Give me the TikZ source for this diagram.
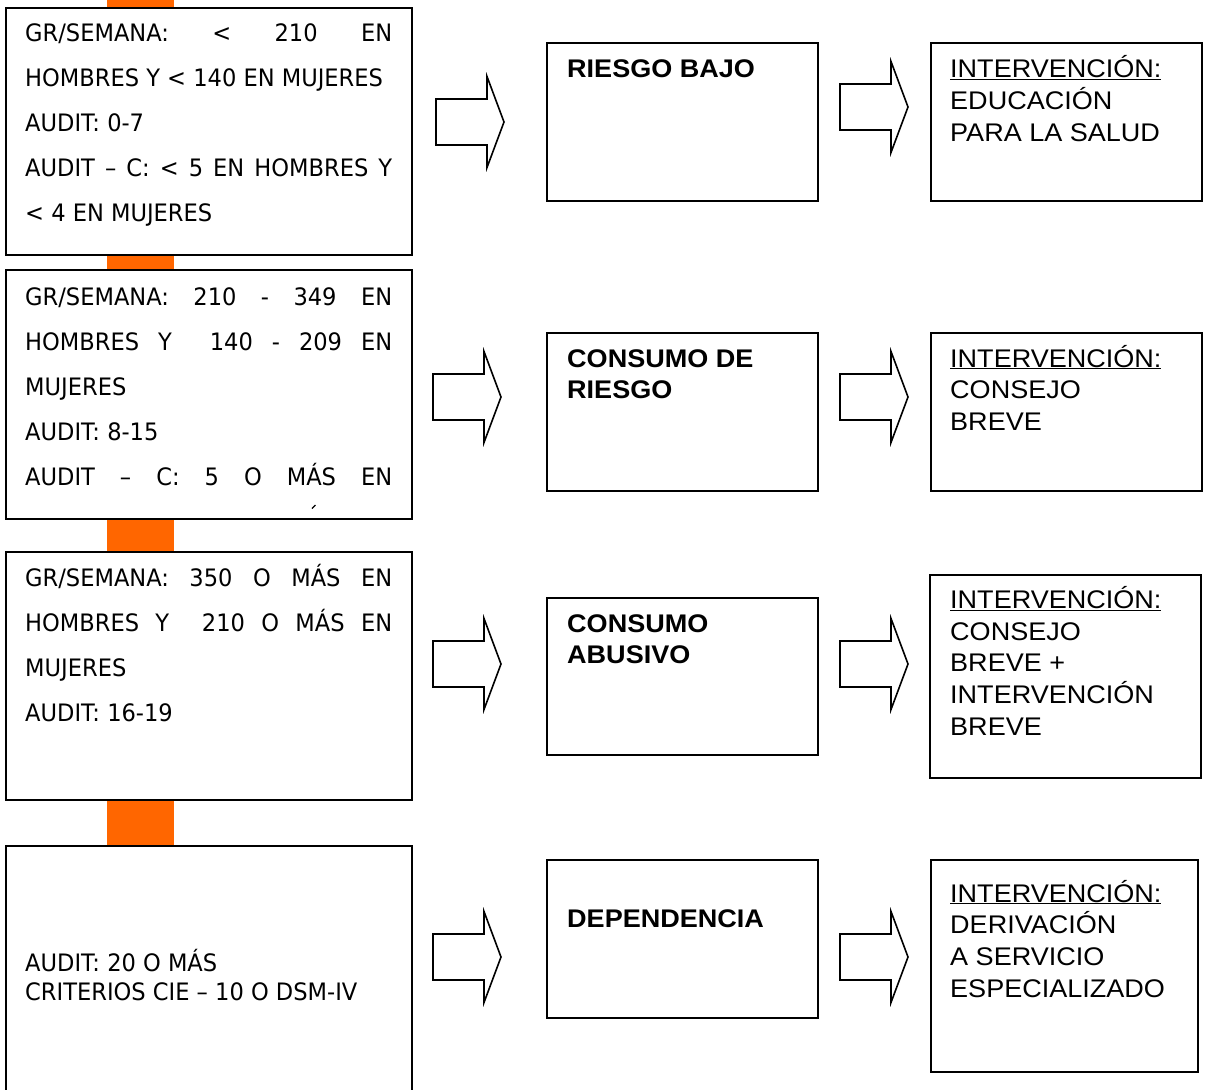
\documentclass[tikz,border=0pt]{standalone}
\usepackage{fontspec}
\setmainfont{Liberation Sans}
\newfontfamily\rfont[FakeStretch=1.06]{Liberation Sans}
\newfontfamily\lfont[FakeStretch=0.94]{DejaVu Sans}
\definecolor{barorange}{HTML}{FF6600}
\tikzset{
  box/.style={draw=black, line width=1.6pt, fill=white, inner sep=0pt},
  arrowline/.style={draw=black, line width=1.6pt, fill=white, line join=miter},
  lefttext/.style={anchor=base west, inner sep=0pt, font=\lfont\fontsize{24}{45}\selectfont},
  lefttexttight/.style={anchor=base west, inner sep=0pt, font=\lfont\fontsize{24}{29}\selectfont},
  midtext/.style={anchor=base west, inner sep=0pt, font=\rfont\bfseries\fontsize{25.5}{31.7}\selectfont},
  righttext/.style={anchor=base west, inner sep=0pt, font=\rfont\fontsize{25.5}{31.7}\selectfont},
  blockarrow/.pic={\path[arrowline] (0,-23) -- (51,-23) -- (51,-45.5) -- (68,0) -- (51,45.5) -- (51,23) -- (0,23) -- cycle;}
}
\newcommand{\jline}[1]{\makebox[367pt][s]{#1}}
\begin{document}
\begin{tikzpicture}[x=1pt,y=-1pt]
\useasboundingbox (0,0) rectangle (1225,1089);
\clip (0,0) rectangle (1225,1089);
\fill[white] (0,0) rectangle (1225,1089);
% orange connector bar
\fill[barorange] (107,-5) rectangle (174,860);
% left boxes
\node[box, anchor=north west, minimum width=406pt, minimum height=247pt] (L1) at (5,7) {};
\node[box, anchor=north west, minimum width=406pt, minimum height=249pt] (L2) at (5,269) {};
\node[box, anchor=north west, minimum width=406pt, minimum height=248pt] (L3) at (5,551) {};
\node[box, anchor=north west, minimum width=406pt, minimum height=260pt] (L4) at (5,845) {};
% middle boxes
\node[box, anchor=north west, minimum width=271pt, minimum height=158pt] (M1) at (546,42) {};
\node[box, anchor=north west, minimum width=271pt, minimum height=158pt] (M2) at (546,332) {};
\node[box, anchor=north west, minimum width=271pt, minimum height=157pt] (M3) at (546,597) {};
\node[box, anchor=north west, minimum width=271pt, minimum height=158pt] (M4) at (546,859) {};
% right boxes
\node[box, anchor=north west, minimum width=271pt, minimum height=158pt] (R1) at (930,42) {};
\node[box, anchor=north west, minimum width=271pt, minimum height=158pt] (R2) at (930,332) {};
\node[box, anchor=north west, minimum width=271pt, minimum height=203pt] (R3) at (929,574) {};
\node[box, anchor=north west, minimum width=267pt, minimum height=212pt] (R4) at (930,859) {};
% left texts
\node[lefttext] (tL1) at (25,41.5) {\parbox[t]{380pt}{\jline{GR/SEMANA: < 210 EN}\\HOMBRES Y < 140 EN MUJERES\\AUDIT: 0-7\\\jline{AUDIT – C: < 5 EN HOMBRES Y}\\< 4 EN MUJERES}};
\node[lefttext] (tL2) at (25,305) {\parbox[t]{380pt}{\jline{GR/SEMANA: 210 - 349 EN}\\\jline{HOMBRES Y \ 140 - 209 EN}\\MUJERES\\AUDIT: 8-15\\\jline{AUDIT – C: 5 O MÁS EN}}};
\draw[line width=1.3pt] (312,508.5) -- (315.5,505) ;
\node[lefttext] (tL3) at (25,586.5) {\parbox[t]{380pt}{\jline{GR/SEMANA: 350 O MÁS EN}\\\jline{HOMBRES Y \ 210 O MÁS EN}\\MUJERES\\AUDIT: 16-19}};
\node[lefttexttight] (tL4) at (25,971) {\parbox[t]{380pt}{AUDIT: 20 O MÁS\\CRITERIOS CIE – 10 O DSM-IV}};
% middle texts
\node[midtext] (tM1) at (567,78) {RIESGO BAJO};
\node[midtext] (tM2) at (567,367) {\parbox[t]{240pt}{CONSUMO DE\\RIESGO}};
\node[midtext] (tM3) at (567,632) {\parbox[t]{240pt}{CONSUMO\\ABUSIVO}};
\node[midtext] (tM4) at (567,927) {DEPENDENCIA};
% right texts
\node[righttext] (tR1) at (950,78) {\parbox[t]{245pt}{\underline{INTERVENCIÓN:}\\EDUCACIÓN\\PARA LA SALUD}};
\node[righttext] (tR2) at (950,367) {\parbox[t]{245pt}{\underline{INTERVENCIÓN:}\\CONSEJO\\BREVE}};
\node[righttext] (tR3) at (950,608.5) {\parbox[t]{245pt}{\underline{INTERVENCIÓN:}\\CONSEJO\\BREVE +\\INTERVENCIÓN\\BREVE}};
\node[righttext] (tR4) at (950,902) {\parbox[t]{245pt}{\underline{INTERVENCIÓN:}\\DERIVACIÓN\\A SERVICIO\\ESPECIALIZADO}};
% block arrows
\pic at (436,122) {blockarrow};
\pic at (840,107) {blockarrow};
\pic at (433,397) {blockarrow};
\pic at (840,397) {blockarrow};
\pic at (433,664) {blockarrow};
\pic at (840,664) {blockarrow};
\pic at (433,957) {blockarrow};
\pic at (840,957) {blockarrow};
\end{tikzpicture}
\end{document}
